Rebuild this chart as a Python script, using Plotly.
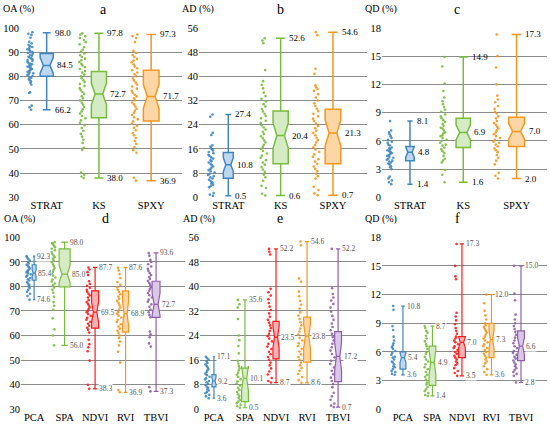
import plotly.graph_objects as go

# ---------------- data ----------------
top_cats = ["STRAT", "KS", "SPXY"]
bot_cats = ["PCA", "SPA", "NDVI", "RVI", "TBVI"]

# panel a  (OA %)
STRAT_OA = [98.2, 97.6, 97.1, 95.9, 94.3, 93.6, 93.0, 92.5, 92.1, 91.7, 91.2, 90.9, 90.4, 90.0, 89.6,
            89.3, 88.9, 88.5, 88.1, 87.8, 87.4, 87.0, 86.7, 86.3, 86.0, 85.6, 85.3, 85.0, 84.7, 84.3,
            84.0, 83.7, 83.3, 83.0, 82.6, 82.3, 81.9, 81.6, 81.2, 80.9, 80.5, 80.1, 79.7, 79.3, 78.9,
            78.4, 77.9, 77.3, 76.6, 73.4, 73.1, 67.9, 67.2, 66.2]
KS_OA = [97.8, 97.2, 96.5, 95.8, 95.0, 94.1, 93.2, 92.0, 91.0, 90.2, 89.4, 88.7, 88.0, 87.3, 86.6,
         85.9, 85.2, 84.5, 83.8, 83.0, 82.2, 81.5, 80.7, 80.0, 79.2, 78.4, 77.6, 76.8, 76.0, 75.1,
         74.3, 73.5, 72.7, 71.8, 70.9, 70.0, 69.1, 68.2, 67.3, 66.4, 65.5, 64.6, 63.6, 62.7, 61.8,
         60.8, 59.8, 58.6, 57.5, 56.2, 55.0, 53.8, 52.5, 50.5, 49.6, 40.2, 39.3, 38.6, 38.0]
SPXY_OA = [97.3, 96.6, 95.8, 94.2, 90.5, 89.6, 88.8, 88.0, 87.2, 86.5, 85.8, 85.0, 84.1, 83.3, 82.5,
           81.6, 80.8, 80.0, 79.1, 78.3, 77.4, 76.6, 75.8, 74.9, 74.0, 73.2, 72.4, 71.7, 70.9, 70.1,
           69.2, 68.4, 67.5, 66.6, 65.8, 64.9, 64.0, 63.1, 62.3, 61.4, 60.5, 59.6, 58.7, 57.7, 56.6,
           55.6, 54.5, 53.3, 52.1, 50.8, 49.5, 48.4, 38.1, 36.9]
a_hi = [98.0, 97.8, 97.3]
a_lo = [66.2, 38.0, 36.9]
a_med = [84.5, 72.7, 71.7]
a_q1 = [80.0, 62.9, 61.5]
a_q3 = [89.4, 82.0, 82.5]
a_notch = [3.2, 4.5, 5.0]

# panel b  (AD %)
STRAT_AD = [27.4, 26.6, 21.3, 20.6, 17.2, 16.8, 16.3, 15.9, 15.5, 15.0, 14.6, 14.1, 13.7, 13.2, 12.8,
            12.3, 11.9, 11.5, 11.0, 10.6, 10.2, 9.8, 9.4, 9.0, 8.6, 8.2, 7.8, 7.4, 7.0, 6.6, 6.2,
            5.8, 5.4, 5.0, 4.6, 4.2, 3.8, 3.3, 1.4, 0.9, 0.5]
KS_AD = [52.6, 51.8, 50.9, 42.1, 38.4, 37.2, 36.0, 34.6, 33.5, 32.6, 31.7, 30.8, 30.0, 29.2, 28.4,
         27.6, 26.9, 26.1, 25.3, 24.6, 23.8, 23.1, 22.4, 21.7, 20.9, 20.2, 19.5, 18.8, 18.1, 17.4,
         16.7, 16.0, 15.3, 14.5, 13.8, 13.1, 12.3, 11.5, 10.8, 10.0, 9.2, 8.4, 7.5, 6.6, 5.5, 3.8,
         3.1, 1.2, 0.6]
SPXY_AD = [54.6, 53.6, 42.5, 40.8, 37.0, 36.4, 35.8, 35.2, 34.1, 33.0, 32.0, 31.1, 30.2, 29.3, 28.5,
           27.6, 26.8, 26.0, 25.2, 24.4, 23.6, 22.8, 22.0, 21.3, 20.5, 19.7, 18.9, 18.1, 17.3, 16.5,
           15.8, 15.0, 14.2, 13.4, 12.6, 11.8, 11.0, 10.2, 9.4, 8.6, 7.8, 7.0, 6.2, 3.5, 2.4, 1.3, 0.7]
b_hi = [27.4, 52.6, 54.6]
b_lo = [0.5, 0.6, 0.7]
b_med = [10.8, 20.4, 21.3]
b_q1 = [6.3, 11.1, 11.1]
b_q3 = [14.8, 28.5, 29.1]
b_notch = [2.3, 4.1, 4.3]

# panel c  (QD %)
STRAT_QD = [8.1, 7.1, 6.9, 6.7, 6.5, 6.3, 6.1, 5.9, 5.8, 5.6, 5.5, 5.3, 5.2, 5.1, 5.0, 4.9, 4.8, 4.7,
            4.6, 4.5, 4.4, 4.3, 4.2, 4.1, 4.0, 3.9, 3.8, 3.7, 3.6, 3.5, 3.3, 3.2, 3.0, 2.2, 2.0, 1.8,
            1.6, 1.4]
KS_QD = [14.9, 13.9, 12.1, 11.3, 10.6, 10.2, 9.9, 9.6, 9.3, 9.1, 8.8, 8.6, 8.4, 8.2, 8.0, 7.8, 7.6,
         7.4, 7.3, 7.1, 6.9, 6.8, 6.6, 6.5, 6.3, 6.1, 6.0, 5.8, 5.6, 5.5, 5.3, 5.1, 4.9, 4.7, 4.4,
         4.1, 3.9, 3.7, 2.9, 2.4, 1.6]
SPXY_QD = [17.3, 15.0, 13.8, 12.0, 10.8, 10.4, 10.1, 9.7, 9.4, 9.1, 8.9, 8.6, 8.4, 8.1, 7.9, 7.7, 7.5,
           7.3, 7.1, 6.9, 6.7, 6.5, 6.3, 6.1, 5.9, 5.8, 5.6, 5.4, 5.2, 5.0, 4.8, 4.5, 4.2, 3.9, 3.5,
           2.6, 2.3, 2.0]
c_hi = [8.1, 14.9, 17.3]
c_lo = [1.4, 1.6, 2.0]
c_med = [4.8, 6.9, 7.0]
c_q1 = [3.9, 5.3, 5.4]
c_q3 = [5.4, 8.4, 8.5]
c_notch = [0.55, 0.8, 0.85]

# panel d  (OA %)
PCA_OA = [92.3, 91.7, 91.1, 90.5, 89.9, 89.3, 88.8, 88.3, 87.8, 87.3, 86.8, 86.3, 85.8, 85.3, 84.9,
          84.4, 83.9, 83.4, 82.9, 82.4, 81.8, 81.2, 80.6, 80.0, 79.3, 78.6, 77.8, 77.0, 76.1, 74.6]
SPA_OA = [98.0, 97.6, 97.1, 96.5, 95.9, 95.3, 94.7, 94.0, 93.3, 92.6, 91.9, 91.2, 90.5, 89.8, 89.0,
          88.3, 87.5, 86.8, 86.0, 85.2, 84.4, 83.6, 82.8, 82.0, 81.2, 80.4, 79.5, 78.6, 77.4, 75.8,
          73.6, 72.1, 70.5, 67.0, 62.5, 60.0, 56.0]
NDVI_OA = [87.7, 86.9, 85.8, 84.6, 82.1, 81.0, 80.2, 79.4, 78.6, 77.8, 77.0, 76.3, 75.5, 74.4, 73.6,
           72.9, 72.2, 71.5, 70.8, 70.1, 69.5, 68.8, 68.0, 67.2, 66.4, 65.6, 64.8, 64.0, 63.2, 62.4,
           61.2, 58.3, 56.5, 55.2, 53.6, 49.8, 40.0, 38.3]
RVI_OA = [87.6, 86.5, 85.0, 83.4, 81.8, 80.6, 79.6, 78.6, 77.7, 76.8, 75.9, 75.0, 74.1, 73.2, 72.3,
          71.4, 70.5, 69.6, 68.9, 68.1, 67.3, 66.4, 65.5, 64.6, 63.7, 62.8, 61.9, 61.0, 60.0, 59.0,
          57.6, 56.0, 53.4, 49.0, 37.8, 36.9]
TBVI_OA = [93.6, 92.5, 90.8, 89.9, 89.0, 88.1, 87.2, 86.3, 85.4, 84.6, 83.8, 83.0, 82.2, 81.4, 80.6,
           79.8, 79.0, 78.2, 77.3, 76.4, 75.5, 74.6, 73.7, 72.7, 71.7, 70.6, 69.5, 68.4, 67.4, 61.6,
           60.5, 59.3, 56.8, 55.5, 39.0, 37.3]
d_hi = [92.3, 98.0, 87.7, 87.6, 93.6]
d_lo = [74.6, 56.0, 38.3, 36.9, 37.3]
d_med = [85.4, 85.0, 69.5, 68.9, 72.7]
d_q1 = [82.5, 79.8, 63.0, 61.4, 67.4]
d_q3 = [88.8, 95.3, 78.2, 78.2, 82.1]
d_notch = [1.3, 3.5, 4.0, 5.0, 4.5]

# panel e  (AD %)
PCA_AD = [17.1, 16.6, 16.1, 15.6, 15.1, 14.6, 14.1, 13.6, 13.1, 12.6, 12.1, 11.6, 11.1, 10.6, 10.1,
          9.7, 9.2, 8.8, 8.3, 7.9, 7.4, 7.0, 6.5, 6.1, 5.6, 5.2, 4.7, 4.2, 3.6]
SPA_AD = [35.6, 34.2, 33.1, 29.4, 24.0, 22.5, 20.6, 18.2, 15.8, 14.9, 14.1, 13.3, 12.6, 11.9, 11.2,
          10.5, 9.8, 9.1, 8.4, 7.7, 7.0, 6.3, 5.6, 4.9, 4.3, 3.7, 3.1, 2.5, 2.0, 1.5, 1.0, 0.5]
NDVI_AD = [52.2, 51.3, 50.4, 39.2, 38.1, 37.0, 35.8, 34.6, 33.4, 32.3, 31.2, 30.1, 29.1, 28.2, 27.3,
           26.4, 25.5, 24.6, 23.8, 23.0, 22.1, 21.3, 20.4, 19.6, 18.7, 17.9, 17.0, 16.1, 15.2, 14.3,
           13.3, 12.3, 11.3, 10.2, 9.2, 8.7]
RVI_AD = [54.6, 53.4, 42.6, 41.5, 38.3, 36.8, 35.3, 34.0, 32.8, 31.6, 30.5, 29.4, 28.3, 27.3, 26.3,
          25.3, 24.3, 23.3, 22.4, 21.5, 20.6, 19.7, 18.8, 17.9, 17.0, 16.1, 15.2, 14.3, 13.4, 12.5,
          11.5, 10.5, 9.5, 8.6]
TBVI_AD = [52.2, 39.4, 37.5, 36.4, 35.4, 34.3, 33.1, 31.8, 30.4, 29.1, 27.9, 26.8, 25.7, 24.6, 23.5,
           22.4, 21.3, 20.2, 19.1, 18.0, 16.9, 15.8, 14.7, 13.6, 12.5, 11.4, 10.3, 9.2, 8.2, 7.2,
           5.4, 4.2, 3.1, 1.9, 1.2, 0.7]
e_hi = [17.1, 35.6, 52.2, 54.6, 52.2]
e_lo = [3.6, 0.5, 8.7, 8.6, 0.7]
e_med = [9.2, 10.1, 23.5, 23.8, 17.2]
e_q1 = [7.3, 2.5, 16.4, 15.3, 9.0]
e_q3 = [11.3, 13.4, 28.6, 30.0, 25.3]
e_notch = [1.0, 4.0, 3.5, 4.0, 4.5]

# panel f  (QD %)
PCA_QD = [10.8, 10.4, 8.7, 8.3, 7.6, 7.2, 6.9, 6.7, 6.5, 6.3, 6.1, 5.9, 5.7, 5.5, 5.4, 5.2, 5.0, 4.9,
          4.7, 4.5, 4.4, 4.2, 4.0, 3.9, 3.7, 3.6]
SPA_QD = [8.7, 8.5, 8.2, 8.0, 7.7, 7.4, 7.1, 6.8, 6.6, 6.3, 6.0, 5.8, 5.5, 5.2, 5.0, 4.7, 4.4, 4.2,
          3.9, 3.6, 3.4, 3.1, 2.8, 2.6, 2.3, 2.1, 1.9, 1.7, 1.5, 1.4]
NDVI_QD = [17.3, 15.0, 13.9, 13.6, 10.1, 9.7, 9.3, 8.9, 8.5, 8.2, 7.9, 7.6, 7.4, 7.2, 7.0, 6.8, 6.6,
           6.4, 6.2, 6.0, 5.8, 5.6, 5.4, 5.2, 5.0, 4.8, 4.6, 4.3, 4.0, 3.8, 3.5]
RVI_QD = [12.0, 11.1, 10.3, 9.8, 9.4, 9.0, 8.8, 8.6, 8.4, 8.2, 8.0, 7.8, 7.6, 7.4, 7.2, 7.0, 6.8, 6.6,
          6.4, 6.2, 6.0, 5.8, 5.6, 5.4, 5.2, 5.0, 4.8, 4.5, 4.2, 3.9, 3.6]
TBVI_QD = [15.0, 12.1, 11.4, 9.9, 9.4, 9.0, 8.7, 8.4, 8.1, 7.8, 7.5, 7.2, 6.9, 6.6, 6.4, 6.1, 5.9,
           5.7, 5.5, 5.3, 5.1, 4.9, 4.7, 4.5, 4.3, 4.1, 3.9, 3.7, 3.5, 2.8]
f_hi = [10.8, 8.7, 17.3, 12.0, 15.0]
f_lo = [3.6, 1.4, 3.5, 3.6, 2.8]
f_med = [5.4, 4.9, 7.0, 7.3, 6.6]
f_q1 = [4.2, 2.5, 5.4, 5.4, 5.1]
f_q3 = [6.0, 6.6, 7.6, 9.0, 8.2]
f_notch = [0.5, 1.3, 0.6, 1.0, 0.9]

# ---------------- styling ----------------
FONT = "Liberation Serif"
BLUE = ("#3F86C0", "#BDD7EE")
GREEN = ("#78BC3E", "#D5EBC3")
ORANGE = ("#F5961E", "#FDD6A6")
RED = ("#FF1A1A", "#F7B2B6")
PURPLE = ("#8E5EAA", "#D9C8E6")

panels = [
    dict(letter="a", ytitle="OA (%)", cats=top_cats, pts=[STRAT_OA, KS_OA, SPXY_OA],
         hi=a_hi, lo=a_lo, med=a_med, q1=a_q1, q3=a_q3, notch=a_notch,
         colors=[BLUE, GREEN, ORANGE], widths=[0.25, 0.29, 0.3], ppos=[-1.55] * 3,
         yr=[30, 100], dt=10, xd=[0.0364, 0.3309], yd=[0.540, 0.935], xr=[-0.51, 2.59]),
    dict(letter="b", ytitle="AD (%)", cats=top_cats, pts=[STRAT_AD, KS_AD, SPXY_AD],
         hi=b_hi, lo=b_lo, med=b_med, q1=b_q1, q3=b_q3, notch=b_notch,
         colors=[BLUE, GREEN, ORANGE], widths=[0.19, 0.29, 0.3], ppos=[-1.6] * 3,
         yr=[0, 56], dt=8, xd=[0.3618, 0.6673], yd=[0.540, 0.935], xr=[-0.56, 2.65]),
    dict(letter="c", ytitle="QD (%)", cats=top_cats, pts=[STRAT_QD, KS_QD, SPXY_QD],
         hi=c_hi, lo=c_lo, med=c_med, q1=c_q1, q3=c_q3, notch=c_notch,
         colors=[BLUE, GREEN, ORANGE], widths=[0.16, 0.27, 0.3], ppos=[-1.85] * 3,
         yr=[0, 18], dt=3, xd=[0.6945, 0.9945], yd=[0.540, 0.935], xr=[-0.525, 2.57]),
    dict(letter="d", ytitle="OA (%)", cats=bot_cats, pts=[PCA_OA, SPA_OA, NDVI_OA, RVI_OA, TBVI_OA],
         hi=d_hi, lo=d_lo, med=d_med, q1=d_q1, q3=d_q3, notch=d_notch,
         colors=[BLUE, GREEN, RED, ORANGE, PURPLE], widths=[0.13, 0.36, 0.23, 0.2, 0.26],
         ppos=[-0.9, -1.8, -1.05, -1.05, -1.0],
         yr=[30, 100], dt=10, xd=[0.0382, 0.3364], yd=[0.046, 0.447], xr=[-0.43, 4.95]),
    dict(letter="e", ytitle="AD (%)", cats=bot_cats, pts=[PCA_AD, SPA_AD, NDVI_AD, RVI_AD, TBVI_AD],
         hi=e_hi, lo=e_lo, med=e_med, q1=e_q1, q3=e_q3, notch=e_notch,
         colors=[BLUE, GREEN, RED, ORANGE, PURPLE], widths=[0.13, 0.22, 0.2, 0.22, 0.22],
         ppos=[-1.05, -1.0, -1.0, -1.1, -0.9],
         yr=[0, 56], dt=8, xd=[0.3636, 0.6655], yd=[0.046, 0.447], xr=[-0.45, 4.9]),
    dict(letter="f", ytitle="QD (%)", cats=bot_cats, pts=[PCA_QD, SPA_QD, NDVI_QD, RVI_QD, TBVI_QD],
         hi=f_hi, lo=f_lo, med=f_med, q1=f_q1, q3=f_q3, notch=f_notch,
         colors=[BLUE, GREEN, RED, ORANGE, PURPLE], widths=[0.2, 0.23, 0.23, 0.17, 0.23],
         ppos=[-1.6, -1.0, -1.0, -1.0, -1.0],
         yr=[0, 18], dt=3, xd=[0.6945, 0.9945], yd=[0.046, 0.447], xr=[-0.71, 4.88]),
]

fig = go.Figure()
annotations = []
layout = {}

for k, p in enumerate(panels):
    n = "" if k == 0 else str(k + 1)
    xa, ya = "x" + n, "y" + n
    top = k < 3
    for i, cat in enumerate(p["cats"]):
        line_c, fill_c = p["colors"][i]
        # jittered sample points (box itself hidden)
        fig.add_trace(go.Box(
            x=[cat] * len(p["pts"][i]), y=p["pts"][i], xaxis=xa, yaxis=ya,
            boxpoints="all", jitter=0.33 if top else 0.4, pointpos=p["ppos"][i],
            width=0.4, fillcolor="rgba(0,0,0,0)", line=dict(width=0),
            marker=dict(color=line_c, size=2.6, opacity=0.9), hoverinfo="y",
        ))
        # notched box from the summary statistics
        fig.add_trace(go.Box(
            x=[cat], q1=[p["q1"][i]], median=[p["med"][i]], q3=[p["q3"][i]],
            lowerfence=[p["lo"][i]], upperfence=[p["hi"][i]], notchspan=[p["notch"][i]],
            notched=True, notchwidth=0.25, boxpoints=False, width=p["widths"][i],
            whiskerwidth=0.6, xaxis=xa, yaxis=ya,
            line=dict(color=line_c, width=1.5 if top else 1.2), fillcolor=fill_c,
        ))
        w = p["widths"][i]
        lab_font = dict(family=FONT, size=9 if top else 7.5, color="black" if top else "#555555")
        bg = "rgba(0,0,0,0)" if top else "white"
        for val, xs in ((p["hi"][i], w * 0.3), (p["lo"][i], w * 0.3), (p["med"][i], w / 2)):
            annotations.append(dict(
                x=i + xs, y=val, xref=xa, yref=ya, text=f"{val:.1f}", showarrow=False,
                xanchor="left", yanchor="middle", xshift=3 if top else 1, font=lab_font,
                bgcolor=bg, borderpad=0,
            ))

    layout["xaxis" + n] = dict(
        domain=p["xd"], anchor=ya, type="category", range=p["xr"], showgrid=False,
        zeroline=False, showline=False, ticks="", automargin=False,
        tickfont=dict(family=FONT, size=10.5, color="black"),
    )
    layout["yaxis" + n] = dict(
        domain=p["yd"], anchor=xa, range=p["yr"], dtick=p["dt"], tick0=0,
        showgrid=True, gridcolor="#8c8c8c", gridwidth=1, zeroline=False, showline=False,
        ticks="", automargin=False, tickfont=dict(family=FONT, size=10.5, color="black"),
    )
    # panel letter and y title
    x0, x1 = p["xd"]
    ty = p["yd"][1] + 0.043
    annotations.append(dict(
        x=(x0 + x1) / 2 - 0.005, y=ty, xref="paper", yref="paper", yanchor="middle",
        text=p["letter"], showarrow=False, font=dict(family=FONT, size=14, color="black"),
    ))
    annotations.append(dict(
        x=x0 - 0.032, y=ty, xref="paper", yref="paper", xanchor="left", yanchor="middle",
        text=p["ytitle"], showarrow=False, font=dict(family=FONT, size=10, color="black"),
        borderpad=0,
    ))

fig.update_layout(
    template="none",
    width=550, height=429, margin=dict(l=0, r=0, t=0, b=0),
    paper_bgcolor="white", plot_bgcolor="white", showlegend=False,
    font=dict(family=FONT), boxmode="overlay", annotations=annotations, **layout,
)

fig.write_html(
    "out.html",
    config={"displayModeBar": False},
    post_script="document.body.style.margin='0';document.body.style.overflow='hidden';",
)
